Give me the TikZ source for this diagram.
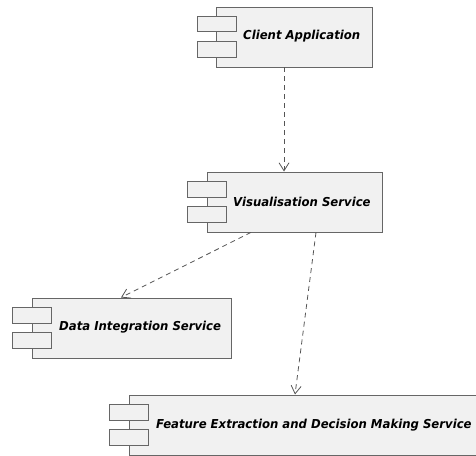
\documentclass[tikz,border=0pt]{standalone}
\usepackage{fontspec}
\setmainfont{DejaVu Sans}
\usetikzlibrary{arrows.meta,calc}
\definecolor{boxfill}{HTML}{F1F1F1}
\definecolor{boxline}{HTML}{666666}
\definecolor{arrline}{HTML}{555555}
\begin{document}
\begin{tikzpicture}[x=1pt,y=-1pt,
  mainbox/.style={draw=boxline,fill=boxfill,line width=0.9pt,anchor=north west,inner sep=0pt,minimum height=60pt},
  tab/.style={draw=boxline,fill=boxfill,line width=0.9pt,anchor=north west,inner sep=0pt,minimum width=39pt,minimum height=15.5pt},
  lbl/.style={anchor=west,inner sep=0pt,font=\fontsize{12.3}{14}\selectfont\bfseries\itshape},
  dep/.style={draw=arrline,line width=0.8pt,dash pattern=on 5pt off 4pt,-{Straight Barb[length=8pt,width=10pt,line width=0.8pt]}}]
\useasboundingbox (0,0) rectangle (476,455);
\begin{scope}
\clip (0,0) rectangle (476,455);
% Client Application
\node[mainbox,minimum width=156pt] (ca) at (215.5,6.5) {};
\node[tab] (cat1) at (196.5,15.5) {};
\node[tab] (cat2) at (196.5,41) {};
\node[lbl] (cal) at (243,36.5) {\scalebox{0.95}[1]{Client Application}};
% Visualisation Service
\node[mainbox,minimum width=175pt] (vs) at (206.5,171.5) {};
\node[tab] (vst1) at (186.5,181) {};
\node[tab] (vst2) at (186.5,206) {};
\node[lbl] (vsl) at (233,201.5) {\scalebox{0.95}[1]{Visualisation Service}};
% Data Integration Service
\node[mainbox,minimum width=199pt] (ds) at (31.5,297.5) {};
\node[tab] (dst1) at (11.5,307) {};
\node[tab] (dst2) at (11.5,332) {};
\node[lbl] (dsl) at (59,327.5) {\scalebox{0.95}[1]{Data Integration Service}};
% Feature Extraction
\node[mainbox,minimum width=360pt] (fe) at (128.5,394.5) {};
\node[tab] (fet1) at (108.5,404) {};
\node[tab] (fet2) at (108.5,429) {};
\node[lbl] (fel) at (156,425.5) {\scalebox{0.95}[1]{Feature Extraction and Decision Making Service}};
\end{scope}
% dependencies
\draw[dep] ([xshift=68.5pt]ca.south west) -- ([xshift=77.5pt]vs.north west);
\draw[dep] ([xshift=44.5pt]vs.south west) -- ([xshift=89.5pt]ds.north west);
\draw[dep] ([xshift=109.5pt]vs.south west) -- ([xshift=166.5pt]fe.north west);
\end{tikzpicture}
\end{document}
